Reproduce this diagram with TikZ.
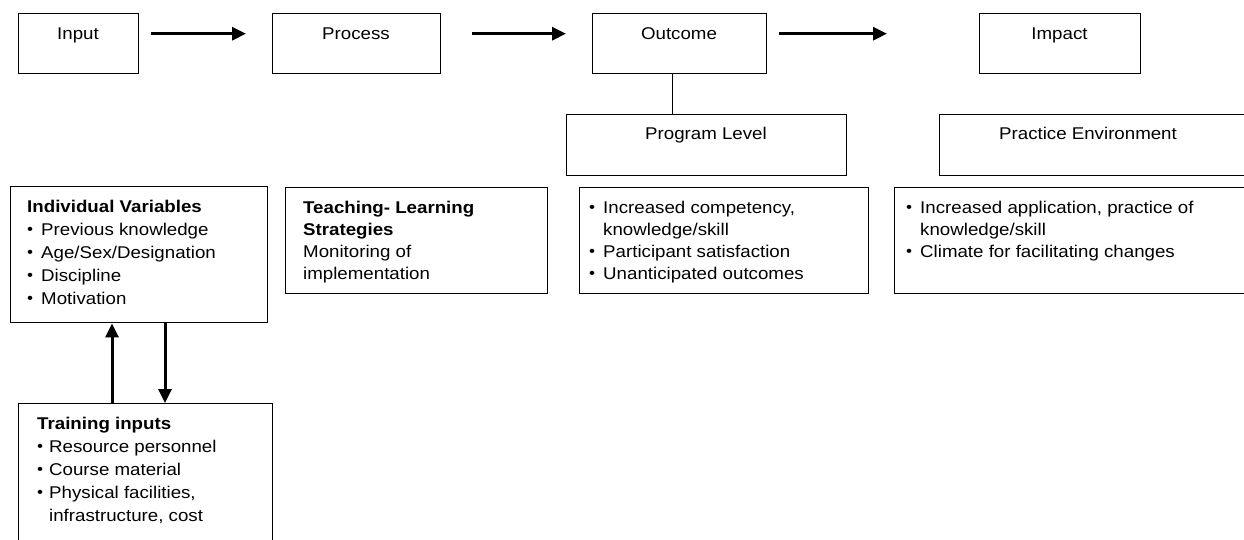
\documentclass[tikz,border=0pt]{standalone}
\usepackage{fontspec}
\setmainfont{Liberation Sans}[FakeStretch=1.1]
\usetikzlibrary{arrows.meta}
\newcommand{\blt}[1][14pt]{\makebox[#1][l]{\raisebox{0.4pt}{\fontsize{15.5}{15.5}\selectfont •}}}
\begin{document}
\begin{tikzpicture}[x=1pt,y=-1pt,
  box/.style={draw, line width=1.4pt, rectangle, anchor=north west, inner sep=0pt},
  hdr/.style={inner sep=0pt, anchor=base, font=\fontsize{17}{22}\selectfont},
  txt/.style={inner sep=0pt, anchor=north west, align=left, font=\fontsize{17}{#1}\selectfont},
  txt/.default=22,
  flow/.style={line width=3pt, -{Triangle[length=14pt,width=13pt]}},
  stem/.style={line width=1.4pt}]
\useasboundingbox (0,0) rectangle (1244,539);
\clip (0,0) rectangle (1244,539);

% top row: the four stages
\node[box, minimum width=120pt, minimum height=60pt] (input)   at (18,13)  {};
\node[box, minimum width=168pt, minimum height=60pt] (process) at (272,13) {};
\node[box, minimum width=174pt, minimum height=60pt] (outcome) at (592,13) {};
\node[box, minimum width=161pt, minimum height=60pt] (impact)  at (979,13) {};
\node[hdr] (inputlbl)   at (78,39)   {Input};
\node[hdr] (processlbl) at (356,39)  {Process};
\node[hdr] (outcomelbl) at (679,39)  {Outcome};
\node[hdr] (impactlbl)  at (1059.5,39) {Impact};

\draw[flow, shorten <=12pt, shorten >=26pt] ([yshift=10pt]input.east) -- ([yshift=10pt]process.west);
\draw[flow, shorten <=31pt, shorten >=26pt] ([yshift=10pt]process.east) -- ([yshift=10pt]outcome.west);
\draw[flow, shorten <=12pt, shorten >=92pt] ([yshift=10pt]outcome.east) -- ([yshift=10pt]impact.west);

% level headers
\node[box, minimum width=280pt, minimum height=61pt] (proglevel) at (566,114) {};
\node[box, minimum width=330pt, minimum height=61pt] (practenv)  at (939,114) {};
\node[hdr] (proglbl)  at (706,139)  {Program Level};
\node[hdr] (practlbl) at (1088,139) {Practice Environment};
\draw[stem] ([xshift=-7pt]outcome.south) -- ([xshift=-34pt]proglevel.north);

% detail boxes
\node[box, minimum width=257pt, minimum height=136pt] (indiv)     at (10,186)  {};
\node[box, minimum width=262pt, minimum height=106pt] (teach)     at (285,187) {};
\node[box, minimum width=289pt, minimum height=106pt] (outlist)   at (579,187) {};
\node[box, minimum width=370pt, minimum height=106pt] (practlist) at (894,187) {};
\node[box, minimum width=254pt, minimum height=160pt] (train)     at (18,403)  {};

\node[txt=23] (indivtxt) at (27,199.6) {\textbf{Individual Variables}\\
  \blt Previous knowledge\\
  \blt Age/Sex/Designation\\
  \blt Discipline\\
  \blt Motivation};

\node[txt] (teachtxt) at (303,200.6) {\textbf{Teaching- Learning}\\
  \textbf{Strategies}\\
  Monitoring of\\
  implementation};

\node[txt] (outtxt) at (589,200.6) {\blt Increased competency,\\
  \hspace*{14pt}knowledge/skill\\
  \blt Participant satisfaction\\
  \blt Unanticipated outcomes};

\node[txt] (practtxt) at (906,200.6) {\blt Increased application, practice of\\
  \hspace*{14pt}knowledge/skill\\
  \blt Climate for facilitating changes};

\node[txt=23] (traintxt) at (37,416.6) {\textbf{Training inputs}\\
  \blt[12pt]Resource personnel\\
  \blt[12pt]Course material\\
  \blt[12pt]Physical facilities,\\
  \hspace*{12pt}infrastructure, cost};

% feedback between individual variables and training inputs
\draw[flow] ([xshift=94pt]train.north west) -- ([xshift=102pt]indiv.south west);
\draw[flow] ([xshift=155pt]indiv.south west) -- ([xshift=147pt]train.north west);
\end{tikzpicture}
\end{document}
